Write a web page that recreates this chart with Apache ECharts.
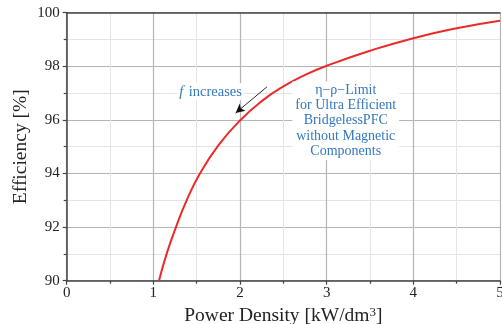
<!DOCTYPE html>
<html>
<head>
<meta charset="utf-8">
<style>
  html, body { margin: 0; padding: 0; background: #fff; }
  #chart { width: 502px; height: 324px; }
</style>
<script src="https://cdn.jsdelivr.net/npm/echarts@6/dist/echarts.min.js"></script>
</head>
<body>
<div id="chart"></div>
<script>
// Power density [kW/dm³] and efficiency [%] along the η-ρ limit curve
var powerDensity = [1.065, 1.153, 1.261, 1.384, 1.537, 1.75, 2.0, 2.25, 2.5, 2.75, 3.0, 3.5, 4.0, 4.5, 5.0];
var efficiency   = [90.0, 91.0, 92.0, 93.0, 94.0, 95.05, 95.98, 96.7, 97.25, 97.68, 98.02, 98.58, 99.05, 99.42, 99.7];

// Arrow marking the direction of increasing switching frequency
var arrowFrom = [2.31, 97.23];
var arrowTo   = [1.95, 96.26];

var xTicks = { min: 0, max: 5, interval: 1 };
var yTicks = { min: 90, max: 100, interval: 2 };

var serif = '"Liberation Serif", "DejaVu Serif", serif';
var blue = '#3478bd';

var curve = powerDensity.map(function (p, i) { return [p, efficiency[i]]; });

var chart = echarts.init(document.getElementById('chart'), null, { renderer: 'canvas' });

chart.setOption({
  backgroundColor: '#fff',
  animation: false,
  grid: { left: 66.7, right: 2, top: 12.7, bottom: 43.3, containLabel: false, outerBoundsMode: 'none' },
  xAxis: [{
    type: 'value',
    min: xTicks.min, max: xTicks.max, interval: xTicks.interval,
    name: 'Power Density [kW/dm{sup|3}]',
    nameLocation: 'middle',
    nameGap: 22,
    nameTextStyle: {
      fontFamily: serif, fontSize: 19.5, color: '#222',
      rich: { sup: { fontFamily: serif, fontSize: 13, color: '#222', verticalAlign: 'top', padding: [0, 0, 6, 0] } }
    },
    axisLine: { show: true, onZero: false, lineStyle: { color: '#444', width: 1.5 } },
    axisTick: { show: true, inside: false, length: 4, lineStyle: { color: '#444', width: 1.2 } },
    minorTick: { show: true, splitNumber: 2, length: 3, lineStyle: { color: '#444', width: 1.2 } },
    axisLabel: { fontFamily: serif, fontSize: 15, color: '#222', margin: 5,
      formatter: function (v) { return String(v); } },
    splitLine: { show: true, lineStyle: { color: '#b4b4b4', width: 1.2 } },
    minorSplitLine: { show: true, lineStyle: { color: '#e4e4e4', width: 1 } }
  }, {
    type: 'value', position: 'top',
    min: xTicks.min, max: xTicks.max,
    axisLine: { show: true, onZero: false, lineStyle: { color: '#444', width: 1.5 } },
    axisTick: { show: false }, axisLabel: { show: false }, splitLine: { show: false }
  }],
  yAxis: {
    type: 'value',
    min: yTicks.min, max: yTicks.max, interval: yTicks.interval,
    name: 'Efficiency [%]',
    nameLocation: 'middle',
    nameGap: 36,
    nameMoveOverlap: false,
    nameTextStyle: { fontFamily: serif, fontSize: 19.5, color: '#222' },
    axisLine: { show: true, onZero: false, lineStyle: { color: '#444', width: 1.5 } },
    axisTick: { show: true, inside: false, length: 4, lineStyle: { color: '#444', width: 1.2 } },
    minorTick: { show: true, splitNumber: 2, length: 3, lineStyle: { color: '#444', width: 1.2 } },
    axisLabel: { fontFamily: serif, fontSize: 15, color: '#222', margin: 7 },
    splitLine: { show: true, lineStyle: { color: '#b4b4b4', width: 1.2 } },
    minorSplitLine: { show: true, lineStyle: { color: '#e4e4e4', width: 1 } }
  },
  series: [{
    type: 'line',
    data: curve,
    smooth: 0.5,
    showSymbol: false,
    lineStyle: { color: '#ec2a2a', width: 2 },
    z: 3,
    markLine: {
      silent: true,
      symbol: ['none', 'arrow'],
      symbolSize: [7, 9],
      label: { show: false },
      lineStyle: { color: '#111', width: 0.9, type: 'solid' },
      data: [[{ coord: arrowFrom }, { coord: arrowTo }]]
    }
  }]
});

// Text annotations with white boxes that interrupt the grid lines
function toPx(p) { return chart.convertToPixel({ xAxisIndex: 0, yAxisIndex: 0 }, p); }
var fPos = toPx([1.66, 97.05]);
var limitPos = toPx([3.22, 95.97]);

chart.setOption({
  graphic: [{
    type: 'text',
    x: fPos[0], y: fPos[1],
    z: 10,
    style: {
      text: '{i|f} increases',
      font: '14.5px ' + serif,
      fill: blue,
      align: 'center', verticalAlign: 'middle',
      backgroundColor: '#fff',
      padding: [1, 2, 1, 2],
      rich: { i: { fontStyle: 'italic', fontFamily: serif, fontSize: 14.5, fill: blue, padding: [0, 2, 0, 0] } }
    }
  }, {
    type: 'text',
    x: limitPos[0], y: limitPos[1],
    z: 10,
    style: {
      text: 'η−ρ−Limit\nfor Ultra Efficient\nBridgelessPFC\nwithout Magnetic\nComponents',
      font: '14px ' + serif,
      fill: blue,
      align: 'center', verticalAlign: 'middle',
      lineHeight: 15.3,
      backgroundColor: '#fff',
      padding: [1, 3, 1, 3]
    }
  }]
});
</script>
</body>
</html>
